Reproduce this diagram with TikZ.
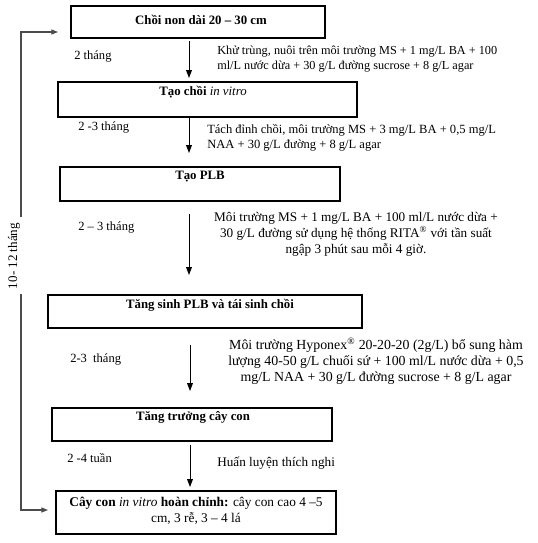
\documentclass[tikz,border=0pt]{standalone}
\usepackage{fontspec}
\setmainfont{Liberation Serif}
\usetikzlibrary{arrows.meta}
\begin{document}
\begin{tikzpicture}[x=0.75pt,y=-0.75pt,
  box/.style={draw=black,line width=0.8pt,inner sep=0pt},
  ttl/.style={font=\fontsize{9.6}{11.5}\selectfont\bfseries,inner sep=0pt,align=center},
  txt/.style={font=\fontsize{9.4}{11.6}\selectfont,inner sep=0pt},
  arr/.style={line width=0.7pt,-{Triangle[length=6pt,width=4.4pt]}},
  fb/.style={draw=black!70,line width=0.8pt},
  fbarr/.style={fb,-{Triangle[length=5pt,width=3.8pt]}}]
\useasboundingbox (0,0) rectangle (537,543);
% boxes
\node[box,minimum width=190.5pt,minimum height=24pt] (b1) at (198,22) {};
\node[box,minimum width=224.25pt,minimum height=26.25pt] (b2) at (207.5,99.5) {};
\node[box,minimum width=210pt,minimum height=25.5pt] (b3) at (200,184) {};
\node[box,minimum width=235.5pt,minimum height=24.75pt] (b4) at (205,311.5) {};
\node[box,minimum width=210pt,minimum height=24.75pt] (b5) at (192,424.5) {};
\node[box,minimum width=210pt,minimum height=32.25pt] (b6) at (196,512.5) {};
% titles
\node[ttl] (t1) at (201,20) {Chồi non dài 20 – 30 cm};
\node[ttl] (t2) at (203,92) {Tạo chồi \textit{\mdseries in vitro}};
\node[ttl] (t3) at (200,177) {Tạo PLB};
\node[ttl] (t4) at (210,305) {Tăng sinh PLB và tái sinh chồi};
\node[ttl] (t5) at (193,417) {Tăng trưởng cây con};
\node[ttl,font=\fontsize{10}{12}\selectfont] (t6) at (196,510.5) {\textbf{Cây con} \textit{in vitro} \textbf{hoàn chỉnh:} \mdseries cây con cao 4 –5\\\mdseries cm, 3 rễ, 3 – 4 lá};
% arrows
\coordinate (a1s) at (189,41); \coordinate (a1e) at (189,78);
\coordinate (a2s) at (189,117); \coordinate (a2e) at (189,153);
\coordinate (a3s) at (189,214); \coordinate (a3e) at (189,275);
\coordinate (a4s) at (190,345); \coordinate (a4e) at (190,391);
\coordinate (a5s) at (190,445); \coordinate (a5e) at (190,487);
\draw[arr] (a1s) -- (a1e);
\draw[arr] (a2s) -- (a2e);
\draw[arr] (a3s) -- (a3e);
\draw[arr] (a4s) -- (a4e);
\draw[arr] (a5s) -- (a5e);
% left labels
\node[txt,anchor=west] (l1) at (74,56) {2 tháng};
\node[txt,anchor=west] (l2) at (78,127) {2 -3 tháng};
\node[txt,anchor=west] (l3) at (78,227) {2 – 3 tháng};
\node[txt,anchor=west] (l4) at (70,359) {2-3 \ tháng};
\node[txt,anchor=west] (l5) at (67,458) {2 -4 tuần};
% right texts
\node[txt,anchor=west,align=left,font=\fontsize{9.2}{11.4}\selectfont] (r1) at (217,59) {Khử trùng, nuôi trên môi trường MS + 1 mg/L BA + 100\\ml/L nước dừa + 30 g/L đường sucrose + 8 g/L agar};
\node[txt,anchor=west,align=left] (r2) at (207,138) {Tách đỉnh chồi, môi trường MS + 3 mg/L BA + 0,5 mg/L\\NAA + 30 g/L đường + 8 g/L agar};
\node[txt,align=center,font=\fontsize{9.9}{12}\selectfont] (r3) at (356,234) {Môi trường MS + 1 mg/L BA + 100 ml/L nước dừa +\\30 g/L đường sử dụng hệ thống RITA\textsuperscript{®} với tần suất\\ngập 3 phút sau mỗi 4 giờ.};
\node[txt,align=center,font=\fontsize{10.4}{12}\selectfont] (r4) at (376,361) {Môi trường Hyponex\textsuperscript{®} 20-20-20 (2g/L) bổ sung hàm\\lượng 40-50 g/L chuối sứ + 100 ml/L nước dừa + 0,5\\mg/L NAA + 30 g/L đường sucrose + 8 g/L agar};
\node[txt,anchor=west,font=\fontsize{9.9}{12}\selectfont] (r5) at (217,463) {Huấn luyện thích nghi};
% feedback loop
\node[txt,rotate=90,font=\fontsize{9.8}{12}\selectfont] (fbl) at (14,256) {10- 12 tháng};
\coordinate (f1) at (21,217); \coordinate (f2) at (21,32); \coordinate (f3) at (58,32);
\coordinate (f4) at (21,294); \coordinate (f5) at (21,510); \coordinate (f6) at (48,510);
\draw[fbarr] (f1) -- (f2) -- (f3);
\draw[fbarr] (f4) -- (f5) -- (f6);
\end{tikzpicture}
\end{document}
